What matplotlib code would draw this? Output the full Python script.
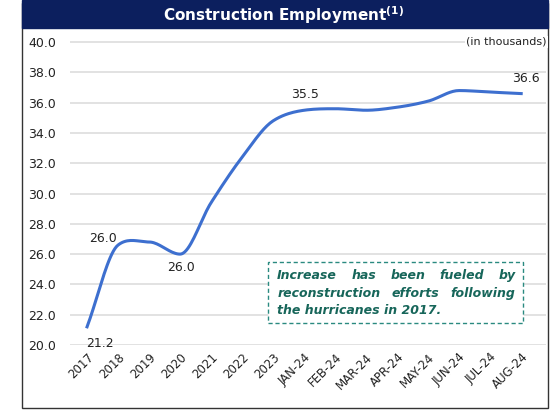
import numpy as np
import matplotlib.pyplot as plt
from matplotlib.patches import Rectangle

# values (thousands)
periods = ["2017", "2018", "2019", "2020", "2021", "2022", "2023",
           "JAN-24", "FEB-24", "MAR-24", "APR-24", "MAY-24", "JUN-24", "JUL-24", "AUG-24"]
employment = [21.2, 26.6, 26.8, 26.0, 29.4, 32.4, 34.8,
              35.5, 35.6, 35.5, 35.7, 36.1, 36.8, 36.7, 36.6]
labels = {0: "21.2", 1: "26.0", 3: "26.0", 7: "35.5", 14: "36.6"}
yticks = [20, 22, 24, 26, 28, 30, 32, 34, 36, 38, 40]
note = ["Increase has been fueled by",
        "reconstruction efforts following",
        "the hurricanes in 2017."]


def smooth(x, y, n=20):
    # hermite curve through the points; tangents are a blend of the
    # harmonic and plain mean so bends stay round without big overshoot
    x = np.asarray(x, float)
    y = np.asarray(y, float)
    d = np.diff(y) / np.diff(x)
    m = np.zeros_like(y)
    m[0], m[-1] = d[0], d[-1]
    for i in range(1, len(y) - 1):
        if d[i - 1] * d[i] > 0:
            harm = 2 / (1 / d[i - 1] + 1 / d[i])
            m[i] = 0.5 * (harm + 0.5 * (d[i - 1] + d[i]))
    xs, ys = [], []
    for i in range(len(x) - 1):
        t = np.linspace(0, 1, n, endpoint=False)
        h = x[i + 1] - x[i]
        h00 = 2 * t**3 - 3 * t**2 + 1
        h10 = t**3 - 2 * t**2 + t
        h01 = -2 * t**3 + 3 * t**2
        h11 = t**3 - t**2
        xs.append(x[i] + t * h)
        ys.append(h00 * y[i] + h10 * h * m[i] + h01 * y[i + 1] + h11 * h * m[i + 1])
    xs.append([x[-1]])
    ys.append([y[-1]])
    return np.concatenate(xs), np.concatenate(ys)


plt.rcParams['font.family'] = ['DejaVu Sans']

W, H = 554, 411
fig = plt.figure(figsize=(W / 100, H / 100), dpi=100)

# outer frame and header band
fig.patches.append(Rectangle((22 / W, 3 / H), 526 / W, 405 / H, transform=fig.transFigure,
                             fill=False, edgecolor="#333333", linewidth=1.0))
fig.patches.append(Rectangle((22 / W, 383 / H), 526 / W, 28 / H, transform=fig.transFigure,
                             facecolor="#0c1f5e", edgecolor="#0c1f5e"))
fig.text(284 / W, 396 / H, r"Construction Employment$^{\mathbf{(1)}}$", color="white",
         ha="center", va="center", fontsize=11, fontweight="bold")

ax = fig.add_axes([70 / W, (H - 345) / H, 476 / W, 312 / H])
x = np.arange(len(periods))
sx, sy = smooth(x, employment)
ax.plot(sx, sy, color="#3d6fcf", linewidth=2.2)

ax.set_ylim(20, 40.6)
ax.set_xlim(-0.55, 14.8)
ax.set_yticks(yticks)
ax.set_yticklabels([f"{v:.1f}" for v in yticks], fontsize=9, color="#222222")
ax.set_xticks(x)
ax.set_xticklabels(periods, rotation=45, ha="right", rotation_mode="anchor", fontsize=8.5, color="#222222")
ax.tick_params(length=0, pad=4)
ax.tick_params(axis="y", pad=10)
ax.grid(axis="y", color="#dddddd", linewidth=1.2)
ax.set_axisbelow(True)
for s in ax.spines.values():
    s.set_visible(False)

label_pos = {0: (0.42, 20.1), 1: (0.52, 27.06), 3: (3.03, 25.1), 7: (7.03, 36.57), 14: (14.16, 37.6)}
for i, txt in labels.items():
    px, py = label_pos[i]
    ax.text(px, py, txt, ha="center", va="center", fontsize=9, color="#222222")

fig.text(547 / W, (H - 42) / H, "(in thousands)", ha="right", va="center", fontsize=8, color="#222222",
         bbox=dict(facecolor="white", edgecolor="none", pad=1))

# note box, text justified by hand
ax.add_patch(Rectangle((5.84, 21.45), 8.22, 4.03, facecolor="white",
                       edgecolor="#2a8a80", linestyle=(0, (3, 2)), linewidth=1.0))
renderer = fig.canvas.get_renderer()
left, right = 6.13, 13.81
ys_note = [24.62, 23.43, 22.31]
note_style = dict(va="center", fontsize=9, color="#17665a", fontweight="bold", style="italic")
inv = ax.transData.inverted()
for k, line in enumerate(note):
    if k == len(note) - 1:
        ax.text(left, ys_note[k], line, ha="left", **note_style)
        continue
    words = line.split()
    items = [ax.text(0, ys_note[k], w, ha="left", **note_style) for w in words]
    widths = []
    for t in items:
        bb = t.get_window_extent(renderer)
        widths.append(inv.transform((bb.x1, 0))[0] - inv.transform((bb.x0, 0))[0])
    gap = max((right - left - sum(widths)) / (len(words) - 1), 0.1)
    pos = left
    for t, w in zip(items, widths):
        t.set_x(pos)
        pos += w + gap

fig.savefig("out.png", dpi=100)
